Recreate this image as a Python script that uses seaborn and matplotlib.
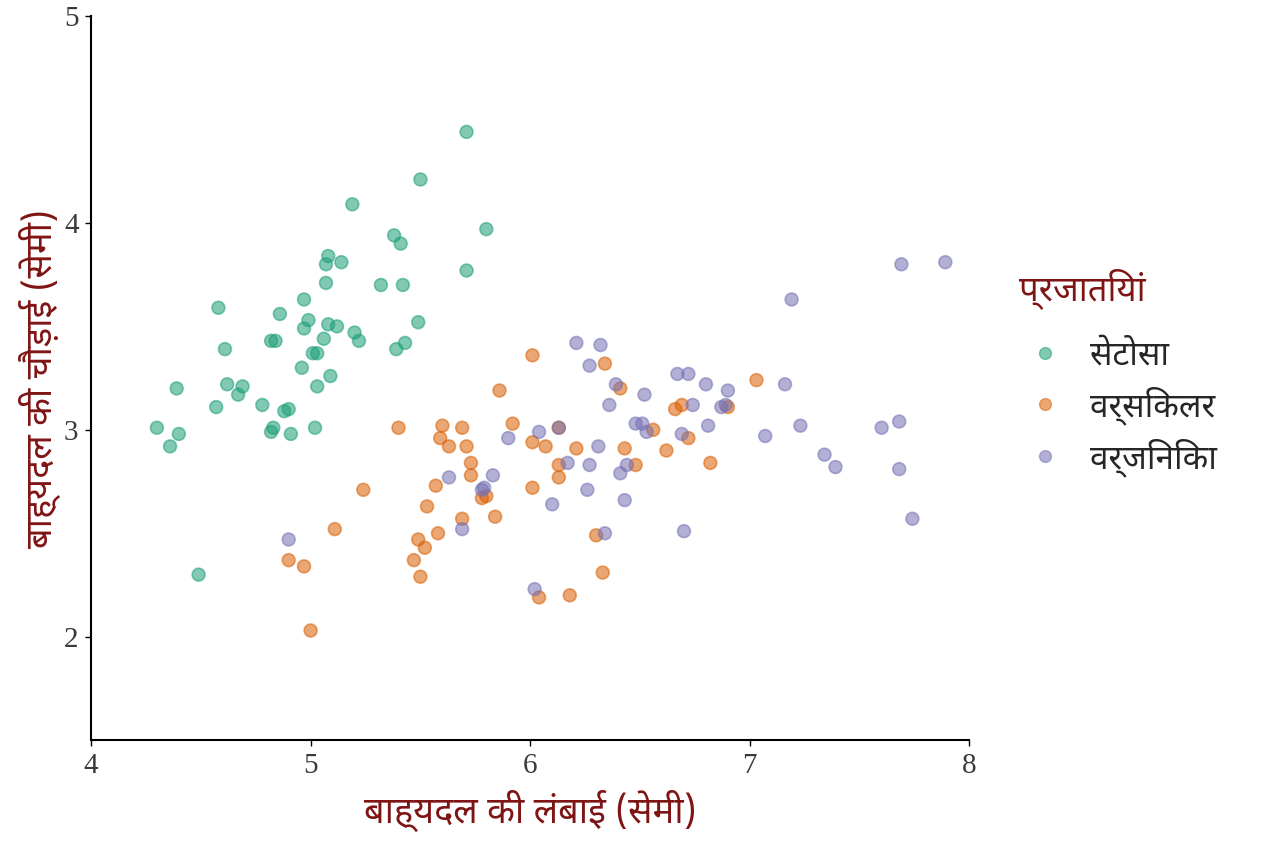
import pandas as pd
import matplotlib.pyplot as plt
import seaborn as sns

# values (jittered iris)
setosa_x = [5.71, 5.50, 5.19, 5.80, 5.38, 5.41, 5.08, 5.07, 5.14, 5.71,
            5.07, 5.32, 5.42, 4.58, 4.97, 4.86, 4.99, 5.49, 5.08, 5.12,
            4.97, 5.20, 5.06, 5.22, 4.82, 4.84, 5.43, 4.61, 5.39, 5.03,
            5.01, 4.96, 5.09, 4.62, 4.69, 5.03, 4.39, 4.67, 4.78, 4.57,
            4.88, 4.90, 4.30, 4.83, 4.82, 5.02, 4.91, 4.40, 4.36, 4.49]
setosa_y = [4.44, 4.21, 4.09, 3.97, 3.94, 3.90, 3.84, 3.80, 3.81, 3.77,
            3.71, 3.70, 3.70, 3.59, 3.63, 3.56, 3.53, 3.52, 3.51, 3.50,
            3.49, 3.47, 3.44, 3.43, 3.43, 3.43, 3.42, 3.39, 3.39, 3.37,
            3.37, 3.30, 3.26, 3.22, 3.21, 3.21, 3.20, 3.17, 3.12, 3.11,
            3.09, 3.10, 3.01, 3.01, 2.99, 3.01, 2.98, 2.98, 2.92, 2.30]

versicolor_x = [6.01, 6.34, 6.41, 5.86, 7.03, 5.40, 5.60, 5.59, 5.63, 5.69,
                5.71, 5.92, 6.01, 6.07, 6.21, 6.43, 6.13, 5.73, 5.73, 6.13,
                6.13, 6.48, 6.56, 6.69, 6.66, 6.90, 6.72, 6.62, 6.82, 5.24,
                5.57, 6.01, 5.53, 5.78, 5.80, 5.84, 5.69, 5.11, 5.58, 5.49,
                5.52, 6.30, 5.47, 5.50, 4.90, 4.97, 5.00, 6.33, 6.04, 6.18]
versicolor_y = [3.36, 3.32, 3.20, 3.19, 3.24, 3.01, 3.02, 2.96, 2.92, 3.01,
                2.92, 3.03, 2.94, 2.92, 2.91, 2.91, 3.01, 2.84, 2.78, 2.83,
                2.77, 2.83, 3.00, 3.12, 3.10, 3.11, 2.96, 2.90, 2.84, 2.71,
                2.73, 2.72, 2.63, 2.67, 2.68, 2.58, 2.57, 2.52, 2.50, 2.47,
                2.43, 2.49, 2.37, 2.29, 2.37, 2.34, 2.03, 2.31, 2.19, 2.20]

virginica_x = [7.69, 7.89, 7.19, 6.21, 6.32, 6.27, 6.39, 6.52, 6.36, 6.67,
               6.72, 6.80, 6.90, 6.89, 6.87, 6.74, 7.16, 6.48, 6.51, 6.53,
               6.69, 6.81, 7.07, 7.23, 7.60, 7.68, 6.04, 5.90, 6.13, 6.31,
               6.17, 6.27, 6.44, 6.41, 5.63, 5.83, 5.79, 5.78, 6.26, 6.10,
               6.43, 7.34, 7.39, 7.68, 7.74, 6.70, 6.34, 5.69, 4.90, 6.02]
virginica_y = [3.80, 3.81, 3.63, 3.42, 3.41, 3.31, 3.22, 3.17, 3.12, 3.27,
               3.27, 3.22, 3.19, 3.12, 3.11, 3.12, 3.22, 3.03, 3.03, 2.99,
               2.98, 3.02, 2.97, 3.02, 3.01, 3.04, 2.99, 2.96, 3.01, 2.92,
               2.84, 2.83, 2.83, 2.79, 2.77, 2.78, 2.72, 2.71, 2.71, 2.64,
               2.66, 2.88, 2.82, 2.81, 2.57, 2.51, 2.50, 2.52, 2.47, 2.23]

species = ['सेटोसा', 'वर्सिकलर', 'वर्जिनिका']
colors = ['#1b9e77', '#d95f02', '#7570b3']

df = pd.DataFrame({
    'x': setosa_x + versicolor_x + virginica_x,
    'y': setosa_y + versicolor_y + virginica_y,
    'species': [species[0]] * len(setosa_x) + [species[1]] * len(versicolor_x)
               + [species[2]] * len(virginica_x),
})

sns.set_style('ticks')
hindi = ['Noto Sans Devanagari', 'Lohit Devanagari', 'FreeSans', 'Noto Sans', 'DejaVu Sans']
label_color = '#7f1414'

fig = plt.figure(figsize=(12.64, 8.43), dpi=100)
ax = fig.add_axes([0.072, 0.122, 0.695, 0.859])

sns.scatterplot(data=df, x='x', y='y', hue='species', hue_order=species,
                palette=colors, s=85, alpha=0.55, linewidth=1.2,
                ax=ax, legend=False)
for c in ax.collections:
    c.set_edgecolor(c.get_facecolor())

ax.set_xlim(4, 8)
ax.set_ylim(1.5, 5)
ax.set_xticks([4, 5, 6, 7, 8])
ax.set_yticks([2, 3, 4, 5])
sns.despine(ax=ax)
for side in ['left', 'bottom']:
    ax.spines[side].set_linewidth(1.5)
    ax.spines[side].set_color('black')
ax.tick_params(width=1, length=4, labelsize=21, colors='black', pad=5)
for t in ax.get_xticklabels() + ax.get_yticklabels():
    t.set_family(['Liberation Serif', 'DejaVu Serif'])
    t.set_color('#3a3a3a')

ax.set_xlabel('बाह्यदल की लंबाई (सेमी)', fontsize=26, color=label_color,
              family=hindi, labelpad=8)
ax.set_ylabel('बाह्यदल की चौड़ाई (सेमी)', fontsize=26, color=label_color,
              family=hindi, labelpad=2)

handles = [plt.Line2D([], [], marker='o', linestyle='', markersize=8.5,
                      markerfacecolor=c, markeredgecolor=c, alpha=0.55)
           for c in colors]
leg = ax.legend(handles, species, title='प्रजातियां', loc='upper left',
                bbox_to_anchor=(1.022, 0.693), frameon=False,
                prop={'family': hindi, 'size': 24}, handletextpad=0.55,
                labelspacing=0.4, handlelength=1.6)
leg.get_title().set_color(label_color)
leg.get_title().set_fontsize(25)
leg.get_title().set_family(hindi)
leg._legend_box.align = 'left'
leg._legend_box.sep = 22

fig.savefig('out.png', dpi=100)
